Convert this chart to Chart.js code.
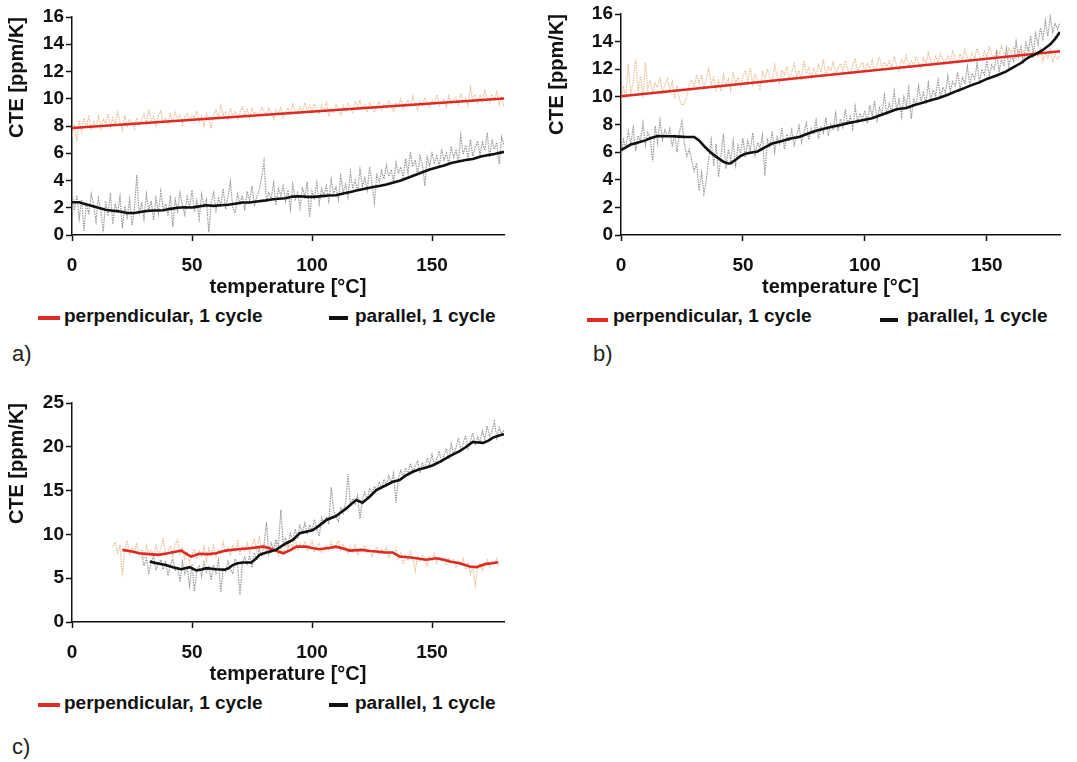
<!DOCTYPE html>
<html>
<head>
<meta charset="utf-8">
<script src="https://cdn.jsdelivr.net/npm/chart.js@4.4.1/dist/chart.umd.min.js"></script>
<style>
  body { margin: 0; background: #fff; width: 1077px; height: 762px; position: relative; overflow: hidden;
         font-family: "Liberation Sans", Arial, sans-serif; }
  canvas { position: absolute; }
  .leg { position: absolute; font-weight: bold; font-size: 19px; line-height: 22px; color: #111; white-space: nowrap; }
  .swatch { position: absolute; height: 4px; }
  .tag { position: absolute; font-size: 22px; line-height: 26px; color: #222; }
</style>
</head>
<body>
<canvas id="chartA" width="540" height="299" style="left:0;top:0"></canvas>
<canvas id="chartB" width="537" height="299" style="left:540px;top:0"></canvas>
<canvas id="chartC" width="540" height="306" style="left:0;top:380px"></canvas>

<!-- legends -->
<div class="swatch" style="left:38px;top:316px;width:22px;background:#dd2a22"></div>
<div class="leg" style="left:64px;top:305px">perpendicular, 1 cycle</div>
<div class="swatch" style="left:329px;top:316px;width:19px;background:#111"></div>
<div class="leg" style="left:355px;top:305px">parallel, 1 cycle</div>
<div class="tag" style="left:12px;top:341px">a)</div>

<div class="swatch" style="left:587px;top:318px;width:21px;background:#dd2a22"></div>
<div class="leg" style="left:613px;top:305px">perpendicular, 1 cycle</div>
<div class="swatch" style="left:880px;top:318px;width:18px;background:#111"></div>
<div class="leg" style="left:907px;top:305px">parallel, 1 cycle</div>
<div class="tag" style="left:593px;top:341px">b)</div>

<div class="swatch" style="left:38px;top:703px;width:22px;background:#dd2a22"></div>
<div class="leg" style="left:64px;top:692px">perpendicular, 1 cycle</div>
<div class="swatch" style="left:329px;top:703px;width:19px;background:#111"></div>
<div class="leg" style="left:355px;top:692px">parallel, 1 cycle</div>
<div class="tag" style="left:12px;top:734px">c)</div>

<script>
/*** data ***/
const xTicks = [0, 50, 100, 150];
const yTicksAB = [0, 2, 4, 6, 8, 10, 12, 14, 16];
const yTicksC = [0, 5, 10, 15, 20, 25];

// panel a) - raw values, one per degree from 0 °C
const aPerpRaw = [
  7.2, 8.1, 6.9, 8.4, 7.6, 8.6, 7.9, 8.8, 7.7, 8.3,
  8.0, 8.7, 7.8, 8.5, 8.2, 8.9, 7.9, 8.6, 8.1, 9.0,
  8.3, 7.7, 8.8, 8.0, 8.5, 8.2, 7.8, 8.6, 8.1, 8.4,
  8.9, 8.2, 9.2, 8.4, 8.7, 8.0, 8.8, 9.1, 8.3, 8.6,
  8.2, 8.9, 8.4, 9.0, 8.5, 8.8, 8.1, 8.7, 8.9, 8.4,
  8.8, 8.6, 9.1, 8.3, 8.7, 8.0, 8.9, 8.5, 7.8, 8.8,
  9.2, 8.6, 9.5, 8.8, 9.0, 8.4, 9.3, 8.7, 9.1, 8.5,
  9.0, 9.4, 8.8, 9.2, 8.6, 9.3, 8.9, 9.0, 8.7, 9.4,
  9.1, 8.8, 9.3, 9.0, 8.5, 9.2, 8.9, 9.4, 8.6, 9.0,
  9.3, 8.8, 9.6, 9.1, 8.9, 9.4, 9.0, 9.7, 9.2, 9.5,
  9.0, 9.6, 9.2, 8.9, 9.5, 9.1, 9.8, 8.7, 9.3, 9.0,
  9.6, 9.2, 8.8, 9.5, 9.1, 9.7, 9.3, 9.0, 9.8, 9.4,
  9.9, 9.3, 9.6, 9.1, 9.7, 9.4, 9.0, 9.5, 9.8, 9.2,
  9.6, 9.3, 9.9, 9.5, 9.1, 9.7, 9.4, 10.0, 9.3, 9.6,
  9.9, 9.4, 10.2, 9.6, 9.2, 9.8, 9.5, 10.1, 9.7, 9.4,
  9.9, 9.6, 10.3, 9.5, 9.8, 10.0, 9.4, 10.2, 9.7, 9.9,
  10.1, 9.6, 10.4, 9.8, 10.0, 9.5, 10.8, 9.9, 10.3, 9.7,
  10.2, 9.8, 10.6, 10.0, 9.7, 10.3, 9.9, 10.5, 9.6, 10.1,
  9.4
];
const aParRaw = [
  3.2, 1.8, 2.9, 1.2, 2.6, 0.3, 2.4, 1.5, 3.0, 2.2,
  1.0, 2.7, 1.9, 0.2, 2.5, 1.4, 3.1, 0.8, 2.3, 1.6,
  2.8, 0.5, 2.1, 1.3, 2.6, 0.7, 1.9, 4.4, 1.5, 2.4,
  1.2, 3.0, 1.8, 2.5, 1.1, 2.7, 1.6, 3.2, 1.9, 2.3,
  1.4, 2.9, 0.6, 2.6, 1.8, 3.1, 2.2, 1.5, 2.8, 2.0,
  3.3, 1.7, 2.5, 1.2, 3.0, 2.1, 2.6, 0.2, 2.4, 3.1,
  1.8, 2.7, 2.2, 3.4, 1.9, 2.8, 3.9, 2.0, 1.6, 3.0,
  2.3, 2.9, 1.8, 3.2, 2.5, 3.6, 2.1, 2.8, 3.3, 4.2,
  5.4, 2.4, 3.1, 2.7, 3.8, 2.2, 3.4, 2.9, 3.6, 2.5,
  3.3, 1.9, 3.7, 2.6, 3.1, 2.0, 3.5, 2.8, 3.9, 1.3,
  3.2, 2.7, 3.8, 2.3, 3.4, 2.9, 3.6, 2.5, 4.1, 3.0,
  3.5, 2.6, 4.3, 3.1, 3.7, 2.8, 4.6, 3.4, 4.0, 3.2,
  4.8, 3.6, 4.2, 3.3, 5.0, 3.8, 2.4, 4.4, 3.9, 4.7,
  4.1, 5.1, 4.3, 4.8, 3.9, 5.3, 4.5, 5.0, 4.2, 5.6,
  4.6, 6.1, 5.0, 5.5, 4.4, 5.8, 5.2, 3.6, 5.7, 5.1,
  6.0, 5.3, 5.8, 5.0, 6.3, 5.5, 6.0, 5.2, 6.5, 5.7,
  6.2, 5.4, 7.3, 5.9, 6.6, 5.6, 7.0, 5.8, 6.4, 6.9,
  5.9, 6.8, 6.2, 7.5, 5.7, 7.0, 6.3, 6.8, 5.2, 7.2,
  6.6
];
// panel a) - smoothed / fitted curves [°C, ppm/K]
const aPerpFit = [[0, 7.85], [180, 10.02]];
const aParSmooth = [
  [0, 2.4], [3, 2.4], [5, 2.3], [8, 2.15], [11, 2.0], [14, 1.85], [17, 1.78], [20, 1.72],
  [23, 1.62], [26, 1.62], [29, 1.7], [32, 1.78], [35, 1.8], [38, 1.82], [41, 1.92], [44, 2.0],
  [47, 2.04], [50, 2.02], [53, 2.1], [56, 2.18], [59, 2.14], [62, 2.18], [65, 2.22], [68, 2.3],
  [71, 2.38], [74, 2.38], [77, 2.46], [80, 2.52], [83, 2.6], [86, 2.66], [89, 2.7], [92, 2.82],
  [95, 2.84], [98, 2.8], [101, 2.8], [104, 2.85], [107, 2.9], [110, 2.92], [113, 3.05], [116, 3.15],
  [119, 3.28], [122, 3.4], [125, 3.5], [128, 3.6], [131, 3.7], [134, 3.85], [137, 4.0], [140, 4.2],
  [143, 4.4], [146, 4.6], [149, 4.8], [152, 4.95], [155, 5.1], [158, 5.28], [161, 5.4], [164, 5.5],
  [167, 5.58], [170, 5.75], [173, 5.85], [176, 5.95], [180, 6.1]
];

// panel b) - raw values, one per degree from 0 °C
const bPerpRaw = [
  9.6, 10.8, 9.9, 12.4, 10.2, 11.1, 12.8, 10.4, 11.5, 10.0,
  12.5, 10.6, 11.2, 10.3, 11.0, 10.7, 11.4, 10.2, 10.9, 11.3,
  10.5, 11.1, 10.0, 10.8, 9.8, 9.4, 9.5, 10.1, 10.9, 11.2,
  10.7, 11.6, 11.0, 11.5, 10.6, 11.3, 12.0, 10.9, 11.4, 10.5,
  11.2, 10.4, 11.6, 10.8, 11.3, 10.5, 11.8, 11.0, 11.4, 10.7,
  11.5, 11.9, 11.1, 12.1, 10.9, 11.6, 11.2, 10.6, 11.8, 11.3,
  12.0, 11.4, 11.1, 12.3, 11.5, 11.0, 11.9, 11.6, 12.2, 11.3,
  11.8, 12.4, 11.5, 11.9, 11.2, 12.6, 11.7, 12.1, 11.4, 12.0,
  11.6, 12.3, 11.8, 12.7, 11.5, 12.2, 11.9, 12.5, 11.7, 12.1,
  12.4, 11.8, 12.6, 12.0, 11.6, 12.3, 12.8, 11.9, 12.2, 12.5,
  11.8, 12.4, 12.1, 12.7, 11.9, 12.3, 12.9, 12.0, 12.5, 12.2,
  12.6, 12.1, 12.9, 12.3, 11.9, 12.7, 12.4, 13.0, 12.2, 12.6,
  12.3, 12.9, 12.5, 12.1, 12.8, 12.4, 13.2, 12.6, 12.3, 12.9,
  12.5, 13.1, 12.7, 12.4, 13.0, 12.6, 13.3, 12.8, 12.5, 13.1,
  12.7, 13.4, 12.9, 12.6, 13.2, 12.8, 13.5, 13.0, 12.7, 13.3,
  12.9, 13.6, 13.1, 12.8, 13.4, 13.0, 13.7, 13.2, 12.9, 13.5,
  13.1, 13.6, 12.8, 13.4, 13.0, 13.3, 12.7, 13.5, 13.1, 12.8,
  13.3, 12.9, 13.6, 12.6, 13.2, 12.8, 13.5, 12.5, 13.1, 12.7,
  13.0
];
const bParRaw = [
  5.6, 6.9, 6.3, 7.5, 6.6, 7.8, 6.1, 7.2, 6.8, 8.1,
  6.5, 7.4, 7.0, 5.3, 7.9, 6.7, 8.3, 6.9, 7.6, 7.1,
  7.7, 6.4, 7.3, 6.0, 7.5, 8.2, 6.6, 5.7, 6.2, 5.4,
  4.6, 5.2, 3.2, 4.5, 3.0, 4.0, 5.6, 6.9, 5.0, 6.6,
  4.2, 5.8, 7.3, 4.8, 6.2, 5.4, 6.8, 5.1, 6.5, 5.9,
  7.0, 5.6, 6.8, 6.1, 7.4, 5.8, 6.7, 6.3, 7.2, 4.3,
  6.9, 6.4, 7.5, 6.0, 7.1, 6.6, 7.8, 6.2, 7.3, 6.8,
  7.6, 6.5, 7.2, 7.9, 6.7, 7.4, 8.1, 6.9, 7.7, 7.3,
  8.3, 7.0, 7.8, 7.4, 8.5, 7.2, 8.0, 7.6, 8.8, 7.5,
  8.4, 7.8, 9.1, 8.0, 8.6, 7.7, 9.3, 8.2, 8.8, 8.4,
  9.0, 8.1, 9.4, 8.6, 9.7, 8.3, 9.2, 8.8, 10.1, 8.7,
  9.5, 8.9, 10.4, 9.1, 9.8, 8.6, 10.0, 9.3, 10.6, 8.4,
  9.9, 9.4, 10.8, 9.7, 10.3, 9.5, 11.0, 9.8, 10.5, 10.1,
  11.2, 10.0, 10.7, 10.3, 11.5, 10.4, 11.1, 10.8, 11.8, 10.6,
  11.4, 11.0, 12.2, 10.9, 11.7, 11.3, 12.4, 11.1, 12.0, 11.6,
  12.6, 11.5, 12.3, 12.0, 13.2, 11.8, 12.7, 12.3, 13.5, 12.2,
  13.0, 12.6, 14.0, 12.9, 13.6, 12.4, 13.9, 13.3, 14.4, 13.1,
  14.6, 13.8, 15.0, 14.2, 15.5, 14.4, 15.8, 14.7, 15.3, 14.9,
  15.4
];
const bPerpFit = [[0, 10.05], [180, 13.3]];
const bParSmooth = [
  [0, 6.15], [2, 6.35], [4, 6.55], [6, 6.65], [8, 6.75], [10, 6.85], [12, 7.0], [15, 7.17],
  [18, 7.15], [21, 7.15], [24, 7.12], [27, 7.1], [30, 7.1], [32, 6.85], [34, 6.45], [36, 6.1],
  [38, 5.8], [40, 5.55], [42, 5.3], [44, 5.18], [45, 5.2], [47, 5.45], [49, 5.72], [51, 5.88],
  [53, 5.95], [56, 6.05], [59, 6.35], [62, 6.62], [66, 6.8], [70, 7.0], [73, 7.1], [77, 7.37],
  [80, 7.55], [84, 7.73], [87, 7.85], [90, 7.97], [93, 8.1], [96, 8.2], [100, 8.35], [103, 8.45],
  [106, 8.65], [110, 8.9], [113, 9.1], [117, 9.2], [120, 9.4], [124, 9.6], [127, 9.75], [130, 9.9],
  [134, 10.15], [138, 10.45], [141, 10.65], [144, 10.87], [147, 11.05], [150, 11.3], [154, 11.55], [158, 11.85],
  [161, 12.15], [164, 12.45], [167, 12.85], [170, 13.1], [173, 13.4], [176, 13.8], [178, 14.2], [180, 14.7]
];

// panel c) - raw values, one per degree (perpendicular from 17 °C, parallel from 29 °C)
const cPerpStart = 17;
const cPerpRaw = [
  8.6, 9.1, 7.9, 8.8, 5.2, 8.4, 9.3, 7.8, 8.5, 8.1,
  8.9, 7.6, 8.3, 7.2, 8.7, 7.9, 8.2, 7.5, 8.8, 7.7,
  8.4, 9.5, 7.6, 8.1, 8.6, 7.3, 8.9, 9.4, 7.8, 8.5,
  7.1, 8.0, 6.8, 7.7, 8.3, 7.2, 8.1, 7.5, 8.6, 7.0,
  8.4, 7.6, 8.9, 7.4, 8.2, 7.8, 9.1, 7.9, 8.5, 7.7,
  8.8, 8.0, 9.2, 7.8, 8.6, 8.1, 9.0, 7.9, 8.7, 9.4,
  8.2, 9.6, 8.4, 8.9, 8.1, 8.6, 7.8, 8.3, 9.0, 7.6,
  8.4, 7.9, 8.8, 8.2, 9.1, 8.5, 9.6, 8.3, 8.9, 8.5,
  9.2, 8.1, 8.7, 9.3, 8.0, 8.6, 9.0, 7.9, 8.5, 8.8,
  8.2, 9.1, 8.4, 8.7, 9.3, 8.1, 8.9, 8.3, 7.8, 8.6,
  8.0, 8.8, 7.6, 8.4, 8.2, 8.7, 7.9, 8.3, 7.5, 8.1,
  8.6, 7.7, 8.3, 7.9, 8.5, 7.4, 8.0, 7.8, 8.4, 7.2,
  7.9, 6.6, 7.6, 7.0, 8.0, 7.3, 5.8, 7.5, 6.9, 7.7,
  7.1, 6.4, 7.6, 7.0, 7.8, 6.7, 7.4, 6.9, 7.2, 6.5,
  7.3, 6.8, 7.1, 6.2, 6.9, 6.5, 7.2, 6.0, 6.8, 5.5,
  6.4, 4.2, 6.1, 6.7, 5.9, 6.5, 7.1, 6.3, 6.9, 6.6,
  7.2, 6.4
];
const cParStart = 29;
const cParRaw = [
  7.8, 6.4, 7.3, 5.6, 6.9, 7.5, 5.9, 6.7, 7.1, 6.0,
  6.8, 5.3, 6.5, 7.2, 5.8, 6.3, 4.6, 6.9, 5.5, 6.2,
  4.1, 6.6, 3.5, 5.9, 6.4, 5.2, 6.8, 5.7, 6.3, 4.8,
  6.5, 5.6, 7.0, 3.4, 6.2, 5.8, 6.9, 6.1, 5.5, 7.2,
  6.4, 3.1, 6.8, 7.4, 6.5, 7.6, 6.2, 7.9, 7.1, 8.4,
  7.5, 8.8, 11.4, 7.8, 9.0, 8.2, 9.4, 8.6, 12.8, 8.9,
  9.6, 8.7, 10.1, 9.3, 10.6, 9.5, 11.0, 10.2, 11.3, 10.0,
  11.1, 10.4, 11.7, 10.6, 9.8, 11.9, 11.2, 12.0, 11.3, 15.4,
  12.8, 12.0, 11.5, 13.1, 12.4, 13.6, 16.9, 13.3, 14.1, 13.5,
  14.4, 11.8, 14.0, 14.8, 13.9, 15.3, 14.6, 15.5, 14.9, 16.0,
  15.2, 16.3, 15.6, 16.7, 15.9, 17.0, 13.6, 16.5, 17.3, 16.6,
  17.6, 16.9, 18.1, 17.2, 17.8, 18.4, 17.0, 18.2, 17.5, 18.7,
  18.0, 19.1, 17.9, 18.6, 19.5, 18.3, 19.0, 19.8, 18.6, 20.3,
  19.2, 19.9, 21.0, 19.6, 20.4, 21.3, 19.8, 20.7, 21.6, 20.2,
  21.1, 20.5, 21.8, 20.9, 22.4, 21.2, 21.7, 22.9, 21.0, 22.2,
  21.5, 21.9
];
const cPerpSmooth = [
  [21, 8.23], [25, 8.05], [28, 7.85], [32, 7.75], [36, 7.66], [40, 7.85], [43.5, 8.04], [45.5, 8.15],
  [47.5, 7.8], [49.7, 7.47], [53, 7.78], [57, 7.75], [60, 7.85], [64, 8.15], [69, 8.3], [74, 8.42],
  [79.6, 8.6], [82, 8.45], [84, 8.23], [88, 7.85], [91, 8.2], [93.5, 8.6], [97.6, 8.6], [100, 8.45],
  [103, 8.3], [107, 8.45], [110, 8.6], [113, 8.4], [115.7, 8.15], [121, 8.23], [124, 8.1], [126.8, 8.04],
  [130, 7.95], [133.7, 7.93], [136.5, 7.47], [140, 7.4], [143.5, 7.28], [147.6, 7.1], [151.8, 7.28], [155, 7.1],
  [157.4, 6.9], [161.5, 6.7], [165.7, 6.33], [168.5, 6.26], [170.5, 6.45], [172.6, 6.64], [175, 6.7], [177.5, 6.83]
];
const cParSmooth = [
  [32.4, 6.9], [34.5, 6.75], [36.5, 6.64], [39, 6.5], [42, 6.26], [45.5, 6.03], [49, 6.26], [51.8, 5.88],
  [54, 6.0], [56, 6.15], [60, 6.03], [63.6, 5.96], [65, 6.1], [67, 6.5], [69, 6.7], [71.2, 6.79],
  [74.7, 6.79], [76.5, 7.2], [78.2, 7.66], [81, 7.93], [85, 8.23], [87, 8.6], [89.3, 8.99], [92, 9.37],
  [94.9, 10.13], [97.5, 10.3], [100.4, 10.5], [103, 11.0], [106, 11.65], [110, 12.1], [112, 12.5], [114.3, 12.97],
  [116.5, 13.5], [118.5, 13.92], [121, 13.62], [124, 14.3], [126.8, 15.06], [130, 15.5], [133.7, 16.0], [136.5, 16.2],
  [139, 16.7], [142, 17.15], [144.5, 17.4], [147.6, 17.64], [150.4, 17.9], [154, 18.4], [157.4, 18.93], [161.5, 19.5],
  [164, 19.95], [167, 20.56], [169, 20.5], [171.3, 20.45], [173.5, 20.7], [175.4, 21.05], [178, 21.3], [180, 21.43]
];

/*** helpers ***/
const rawPoints = (t0, vals) => vals.map((v, i) => ({ x: t0 + i, y: v }));
const pairPoints = (pairs) => pairs.map(([x, y]) => ({ x: x, y: y }));

const INK = '#111';
const RED = '#dd2a22';
const TICK_FONT = { family: 'Liberation Sans', size: 19, weight: 'bold' };
const TITLE_FONT = { family: 'Liberation Sans', size: 20, weight: 'bold', lineHeight: 1.2 };

function buildChart(canvasId, cfg) {
  return new Chart(document.getElementById(canvasId), {
    type: 'line',
    data: {
      datasets: [
        { data: pairPoints(cfg.par), borderColor: INK, borderWidth: 2.6 },
        { data: pairPoints(cfg.perp), borderColor: RED, borderWidth: 2.6 },
        { data: cfg.parRaw, borderColor: 'rgba(135,135,135,0.85)', borderWidth: 1.2, borderDash: [1.5, 1] },
        { data: cfg.perpRaw, borderColor: 'rgba(230,188,142,0.95)', borderWidth: 1.2, borderDash: [1.5, 1] },
      ],
    },
    options: {
      responsive: false,
      animation: false,
      devicePixelRatio: 1,
      layout: { padding: { top: cfg.top, right: cfg.right, left: 0, bottom: 0 } },
      elements: { point: { radius: 0 }, line: { tension: 0 } },
      plugins: { legend: { display: false }, tooltip: { enabled: false } },
      scales: {
        x: {
          type: 'linear',
          min: 0,
          max: 180,
          afterBuildTicks: (s) => { s.ticks = xTicks.map((v) => ({ value: v })); },
          afterFit: (s) => { s.height = 64; },
          grid: { drawOnChartArea: false, color: INK, tickLength: 6, tickWidth: 1.5 },
          border: { color: INK, width: 1.5 },
          ticks: { color: INK, font: TICK_FONT, padding: 13, maxRotation: 0 },
          title: { display: true, text: 'temperature [°C]', color: INK, font: TITLE_FONT, padding: 0 },
        },
        y: {
          min: 0,
          max: cfg.yTicks[cfg.yTicks.length - 1],
          afterBuildTicks: (s) => { s.ticks = cfg.yTicks.map((v) => ({ value: v })); },
          afterFit: (s) => { s.width = cfg.left; },
          grid: { drawOnChartArea: false, color: INK, tickLength: 6, tickWidth: 1.5 },
          border: { color: INK, width: 1.5 },
          ticks: { color: INK, font: TICK_FONT, padding: 2 },
          title: {
            display: true, text: 'CTE [ppm/K]', color: INK, font: TITLE_FONT,
            align: 'end', padding: { top: 5, bottom: 0 },
          },
        },
      },
    },
  });
}

buildChart('chartA', {
  par: aParSmooth, perp: aPerpFit,
  parRaw: rawPoints(0, aParRaw), perpRaw: rawPoints(0, aPerpRaw),
  yTicks: yTicksAB, top: 17, right: 36, left: 72,
});
buildChart('chartB', {
  par: bParSmooth, perp: bPerpFit,
  parRaw: rawPoints(0, bParRaw), perpRaw: rawPoints(0, bPerpRaw),
  yTicks: yTicksAB, top: 14, right: 17, left: 81,
});
buildChart('chartC', {
  par: cParSmooth, perp: cPerpSmooth,
  parRaw: rawPoints(cParStart, cParRaw), perpRaw: rawPoints(cPerpStart, cPerpRaw),
  yTicks: yTicksC, top: 23, right: 36, left: 72,
});
</script>
</body>
</html>
